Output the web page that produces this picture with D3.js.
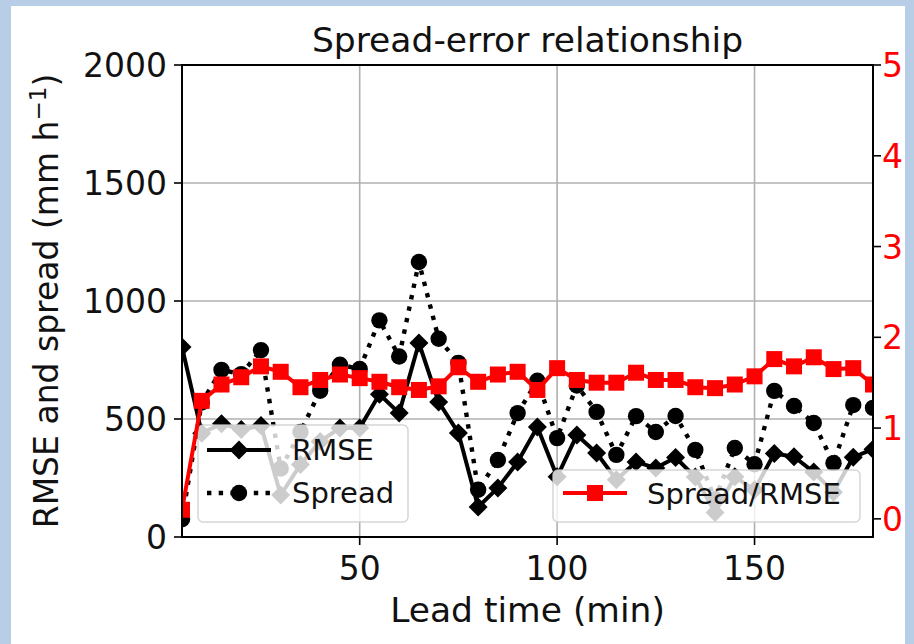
<!DOCTYPE html>
<html><head><meta charset="utf-8">
<script src="https://cdn.jsdelivr.net/npm/d3@7"></script>
<style>html,body{margin:0;padding:0;background:#b8cde6;}svg{display:block;font-family:"DejaVu Sans",sans-serif;}</style>
</head><body>
<script>
const leadTime = [5,10,15,20,25,30,35,40,45,50,55,60,65,70,75,80,85,90,95,100,105,110,115,120,125,130,135,140,145,150,155,160,165,170,175,180];
const rmse   = [805,440,480,455,472,178,307,405,462,462,605,525,822,572,441,127,208,318,466,255,432,356,243,318,292,337,254,104,255,200,354,340,275,190,338,372];
const spread = [75,570,708,690,792,290,445,620,730,712,918,765,1165,840,738,200,326,525,662,419,642,530,348,512,445,513,369,160,377,308,619,555,483,313,559,547];
const ratio  = [0.10,1.30,1.48,1.56,1.68,1.62,1.45,1.53,1.59,1.55,1.51,1.45,1.42,1.46,1.67,1.51,1.59,1.62,1.42,1.66,1.53,1.50,1.50,1.61,1.53,1.53,1.45,1.44,1.48,1.57,1.76,1.68,1.78,1.65,1.66,1.48];
const xTicks = [50,100,150];
const yLeftTicks = [0,500,1000,1500,2000];
const yRightTicks = [0,1,2,3,4,5];

const W=914,H=644;
const svg=d3.select("body").append("svg").attr("width",W).attr("height",H);
svg.append("rect").attr("x",0).attr("y",0).attr("width",W).attr("height",H).attr("fill","#b8cde6");
svg.append("rect").attr("x",11).attr("y",6).attr("width",894).attr("height",H-6).attr("fill","#ffffff");

const L=182,R=873,T=65,B=537;
const x=d3.scaleLinear().domain([5,180]).range([L,R]);
const yL=d3.scaleLinear().domain([0,2000]).range([B,T]);
const yR=d3.scaleLinear().domain([-0.2,5]).range([B,T]);

svg.append("clipPath").attr("id","clip").append("rect").attr("x",L).attr("y",T).attr("width",R-L).attr("height",B-T);

// grid
const grid=svg.append("g");
grid.selectAll("line.gx").data(xTicks).enter().append("line")
  .attr("x1",d=>x(d)).attr("x2",d=>x(d)).attr("y1",T).attr("y2",B)
  .attr("stroke","#b0b0b0").attr("stroke-width",1.6);
grid.selectAll("line.gy").data(yLeftTicks.slice(1,-1)).enter().append("line")
  .attr("x1",L).attr("x2",R).attr("y1",d=>yL(d)).attr("y2",d=>yL(d))
  .attr("stroke","#b0b0b0").attr("stroke-width",1.6);

const idx=d3.range(leadTime.length);
const plot=svg.append("g").attr("clip-path","url(#clip)");
const lineL=arr=>d3.line().x(i=>x(leadTime[i])).y(i=>yL(arr[i]))(idx);

const diamond=(cx,cy,r)=>`M${cx},${cy-r}L${cx+r},${cy}L${cx},${cy+r}L${cx-r},${cy}Z`;

// RMSE
plot.append("path").attr("d",lineL(rmse)).attr("fill","none").attr("stroke","#000").attr("stroke-width",4).attr("stroke-linejoin","round");
plot.selectAll("path.rm").data(idx).enter().append("path")
  .attr("d",i=>diamond(x(leadTime[i]),yL(rmse[i]),9.5)).attr("fill","#000");
// Spread
plot.append("path").attr("d",lineL(spread)).attr("fill","none").attr("stroke","#000").attr("stroke-width",4.4).attr("stroke-dasharray","4.4,7.3");
plot.selectAll("circle.sp").data(idx).enter().append("circle")
  .attr("cx",i=>x(leadTime[i])).attr("cy",i=>yL(spread[i])).attr("r",8.2).attr("fill","#000");

const fs=33;
function legendBox(g,x0,y0,w,h){
  g.append("rect").attr("x",x0).attr("y",y0).attr("width",w).attr("height",h).attr("rx",5)
   .attr("fill","#fff").attr("fill-opacity",0.8).attr("stroke","#cccccc").attr("stroke-opacity",0.8).attr("stroke-width",1.5);
}
// left legend
const lg=svg.append("g");
legendBox(lg,198,425,210,97);
lg.append("line").attr("x1",207).attr("x2",271).attr("y1",450).attr("y2",450).attr("stroke","#000").attr("stroke-width",4);
lg.append("path").attr("d",diamond(239,450,9.5)).attr("fill","#000");
lg.append("text").attr("x",292).attr("y",460).attr("font-size",29).attr("fill","#111").text("RMSE");
lg.append("line").attr("x1",207).attr("x2",271).attr("y1",493).attr("y2",493).attr("stroke","#000").attr("stroke-width",4.4).attr("stroke-dasharray","4.4,7.3");
lg.append("circle").attr("cx",239).attr("cy",493).attr("r",8.2).attr("fill","#000");
lg.append("text").attr("x",292).attr("y",503).attr("font-size",29).attr("fill","#111").text("Spread");

// red ratio line (twin axis)
const plot2=svg.append("g").attr("clip-path","url(#clip)");
plot2.append("path").attr("d",d3.line().x(i=>x(leadTime[i])).y(i=>yR(ratio[i]))(idx))
  .attr("fill","none").attr("stroke","#ff0000").attr("stroke-width",4).attr("stroke-linejoin","round");
plot2.selectAll("rect.rt").data(idx).enter().append("rect")
  .attr("x",i=>x(leadTime[i])-8).attr("y",i=>yR(ratio[i])-8).attr("width",16).attr("height",16).attr("fill","#ff0000");

// right legend
const rg=svg.append("g");
legendBox(rg,553,470,307,52);
rg.append("line").attr("x1",563).attr("x2",627).attr("y1",493).attr("y2",493).attr("stroke","#ff0000").attr("stroke-width",4);
rg.append("rect").attr("x",587).attr("y",485).attr("width",16).attr("height",16).attr("fill","#ff0000");
rg.append("text").attr("x",647).attr("y",504).attr("font-size",29).attr("fill","#111").text("Spread/RMSE");

// axes on top
const ax=svg.append("g");
ax.append("rect").attr("x",L).attr("y",T).attr("width",R-L).attr("height",B-T).attr("fill","none").attr("stroke","#000").attr("stroke-width",2);
ax.selectAll("line.xt").data(xTicks).enter().append("line")
  .attr("x1",d=>x(d)).attr("x2",d=>x(d)).attr("y1",B).attr("y2",B+8).attr("stroke","#000").attr("stroke-width",1.6);
ax.selectAll("text.xt").data(xTicks).enter().append("text")
  .attr("x",d=>x(d)).attr("y",B+43).attr("text-anchor","middle").attr("font-size",fs).attr("fill","#111").text(d=>d);
ax.selectAll("line.yl").data(yLeftTicks).enter().append("line")
  .attr("x1",L-8).attr("x2",L).attr("y1",d=>yL(d)).attr("y2",d=>yL(d)).attr("stroke","#000").attr("stroke-width",1.6);
ax.selectAll("text.yl").data(yLeftTicks).enter().append("text")
  .attr("x",L-15).attr("y",d=>yL(d)+12).attr("text-anchor","end").attr("font-size",fs).attr("fill","#111").text(d=>d);
ax.selectAll("line.yr").data(yRightTicks).enter().append("line")
  .attr("x1",R).attr("x2",R+8).attr("y1",d=>yR(d)).attr("y2",d=>yR(d)).attr("stroke","#000").attr("stroke-width",1.6);
ax.selectAll("text.yr").data(yRightTicks).enter().append("text")
  .attr("x",R+9).attr("y",d=>yR(d)+12).attr("text-anchor","start").attr("font-size",fs).attr("fill","#ff0000").text(d=>d);

// labels
svg.append("text").attr("x",(L+R)/2).attr("y",B+85).attr("text-anchor","middle").attr("font-size",34.5).attr("fill","#111").text("Lead time (min)");
svg.append("text").attr("x",(L+R)/2).attr("y",52).attr("text-anchor","middle").attr("font-size",34.5).attr("fill","#111").text("Spread-error relationship");
const yl=svg.append("text").attr("transform",`translate(58,${(T+B)/2}) rotate(-90)`).attr("text-anchor","middle").attr("font-size",fs).attr("fill","#111");
yl.append("tspan").text("RMSE and spread (mm h");
yl.append("tspan").attr("dy",-12).attr("font-size",23).text("−1");
yl.append("tspan").attr("dy",12).text(")");
</script>
</body></html>
